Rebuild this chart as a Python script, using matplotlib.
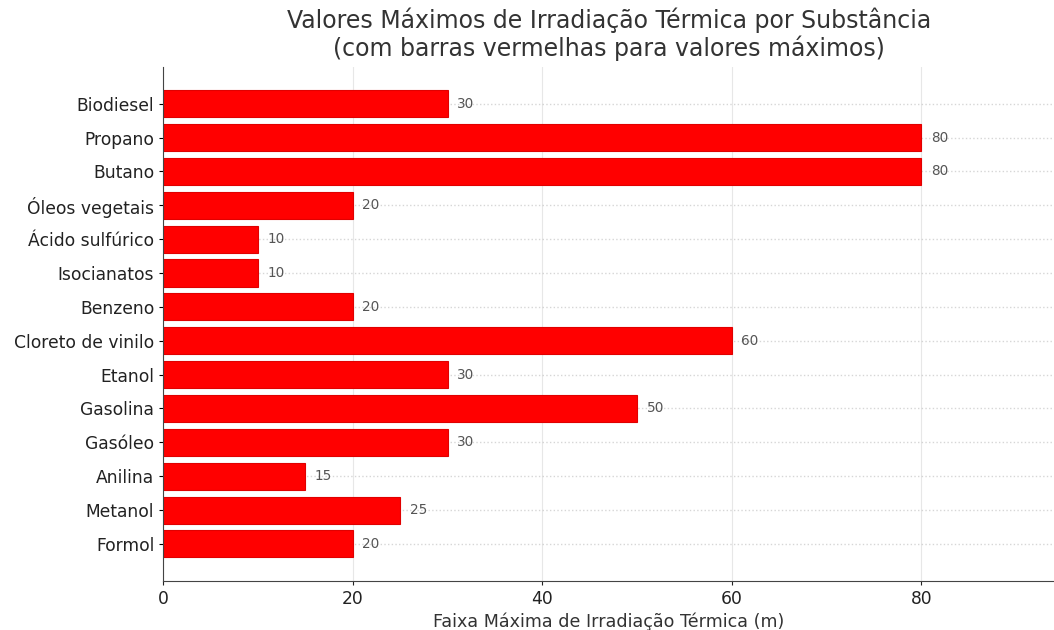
import matplotlib
matplotlib.use("Agg")
import matplotlib.pyplot as plt

substancias = ["Biodiesel", "Propano", "Butano", "Óleos vegetais", "Ácido sulfúrico",
               "Isocianatos", "Benzeno", "Cloreto de vinilo", "Etanol", "Gasolina",
               "Gasóleo", "Anilina", "Metanol", "Formol"]
valores = [30, 80, 80, 20, 10, 10, 20, 60, 30, 50, 30, 15, 25, 20]

fig = plt.figure(figsize=(10.54, 6.3), dpi=100)
ax = fig.add_axes([0.155, 0.078, 0.845, 0.816])

y = list(range(len(substancias)))
ax.barh(y, valores, height=0.8, color="#ff0000", edgecolor="#e00000", linewidth=0.8, zorder=2)
ax.set_yticks(y)
ax.set_yticklabels(substancias, fontsize=12.3, color="#222222")
ax.invert_yaxis()
ax.set_xlim(0, 94)
ax.set_xticks([0, 20, 40, 60, 80])
ax.tick_params(axis="x", labelsize=12.3, colors="#222222", length=3)
ax.tick_params(axis="y", length=3)

for yi, v in zip(y, valores):
    ax.text(v + 1, yi, str(v), va="center", ha="left", fontsize=9.8, color="#555555", zorder=3)

ax.grid(axis="x", color="#bbbbbb", alpha=0.35, linestyle="-", linewidth=0.8, zorder=3)
ax.grid(axis="y", color="#bbbbbb", alpha=0.6, linestyle=":", linewidth=1.0, zorder=3)
for s in ["top", "right"]:
    ax.spines[s].set_visible(False)
for s in ["left", "bottom"]:
    ax.spines[s].set_color("#444444")

ax.set_xlabel("Faixa Máxima de Irradiação Térmica (m)", fontsize=12.6, color="#333333", labelpad=3)
ax.set_title("Valores Máximos de Irradiação Térmica por Substância\n(com barras vermelhas para valores máximos)",
             fontsize=17, color="#333333", pad=8, linespacing=1.1)

fig.savefig("out.png", dpi=100)
